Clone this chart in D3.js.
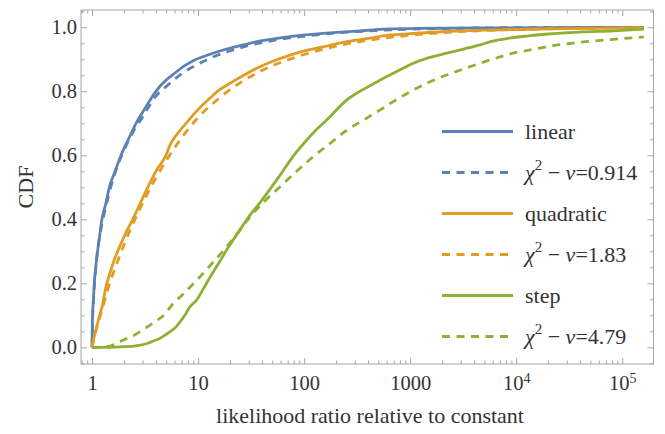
<!DOCTYPE html>
<html>
<head>
<meta charset="utf-8">
<script src="https://cdn.jsdelivr.net/npm/d3@7/dist/d3.min.js"></script>
<style>
  body { margin: 0; background: #fff; }
</style>
</head>
<body>
<svg id="chart" width="665" height="434"></svg>
<script>
// values: [likelihood ratio, CDF]
var linearData = [[1,0],[1.01,0.09],[1.03,0.15],[1.05,0.2],[1.1,0.27],[1.17,0.34],[1.24,0.4],[1.35,0.45],[1.456,0.5],[1.65,0.55],[1.876,0.6],[2.2,0.65],[2.6,0.7],[3.2,0.75],[4.0,0.8],[5.0,0.835],[6.1,0.858],[7.3,0.878],[8.9,0.895],[12,0.912],[17.3,0.929],[25,0.943],[35.8,0.955],[50,0.963],[74,0.971],[110,0.977],[151,0.981],[220,0.985],[314,0.988],[450,0.992],[650,0.995],[1000,0.996],[2000,0.997],[5000,0.998],[20000,0.999],[160000,1.0]];
var linearChi2 = [[1,0],[1.01,0.08],[1.03,0.14],[1.05,0.19],[1.1,0.27],[1.2,0.36],[1.35,0.44],[1.5,0.5],[1.75,0.57],[2,0.615],[2.5,0.68],[3,0.72],[4,0.785],[5,0.815],[7,0.855],[10,0.885],[15,0.912],[20,0.926],[30,0.943],[50,0.958],[70,0.966],[100,0.972],[200,0.982],[500,0.99],[1000,0.994],[3000,0.997],[10000,0.999],[160000,1.0]];
var quadraticData = [[1,0],[1.05,0.035],[1.1,0.06],[1.17,0.096],[1.25,0.13],[1.355,0.19],[1.5,0.24],[1.62,0.273],[1.85,0.32],[2.1,0.36],[2.42,0.4],[2.85,0.45],[3.35,0.5],[4.0,0.55],[4.98,0.6],[5.4,0.63],[6.3,0.665],[7.7,0.7],[9.5,0.735],[12.9,0.778],[16,0.805],[20,0.825],[27,0.85],[35.8,0.872],[50,0.893],[73.8,0.913],[105,0.928],[151,0.939],[220,0.951],[314,0.96],[450,0.968],[648,0.976],[1000,0.98],[2000,0.986],[5000,0.991],[20000,0.995],[160000,0.998]];
var quadraticChi2 = [[1,0],[1.05,0.03],[1.1,0.058],[1.2,0.1],[1.35,0.16],[1.5,0.21],[1.75,0.27],[2,0.32],[2.5,0.395],[3,0.45],[4,0.53],[5,0.583],[7,0.655],[10,0.718],[15,0.772],[20,0.805],[30,0.843],[50,0.88],[70,0.898],[100,0.915],[200,0.941],[500,0.964],[1000,0.975],[2000,0.983],[5000,0.99],[10000,0.993],[30000,0.996],[160000,0.998]];
var stepData = [[1,0],[1.5,0],[2,0.002],[2.5,0.004],[2.84,0.007],[3.3,0.012],[3.8,0.02],[4.3,0.027],[4.88,0.038],[5.5,0.05],[6.2,0.064],[6.76,0.08],[7.5,0.1],[8.3,0.125],[9.7,0.148],[11.3,0.185],[13,0.22],[16,0.268],[19.4,0.314],[24,0.36],[30.9,0.413],[40,0.46],[59.3,0.538],[80,0.6],[105.9,0.648],[130,0.68],[163,0.71],[253,0.773],[380,0.81],[522,0.835],[804,0.867],[1070,0.8875],[1500,0.905],[2215,0.919],[3200,0.932],[4560,0.945],[6000,0.957],[8600,0.966],[13000,0.973],[20000,0.979],[40000,0.985],[83000,0.989],[160000,0.994]];
var stepChi2 = [[1,0],[1.2,0.001],[1.355,0.002],[1.6,0.008],[1.95,0.022],[2.5,0.038],[3.16,0.059],[4,0.082],[4.64,0.097],[5.85,0.1375],[7.17,0.165],[8.5,0.19],[10.4,0.22],[13.5,0.262],[18.6,0.314],[24,0.36],[30.9,0.408],[42,0.455],[59.3,0.502],[85,0.55],[122,0.596],[180,0.64],[253,0.679],[370,0.712],[522,0.742],[750,0.775],[1070,0.804],[1500,0.828],[2215,0.851],[3200,0.87],[4560,0.8875],[6500,0.904],[9300,0.919],[14000,0.93],[20000,0.94],[40000,0.953],[83000,0.9625],[160000,0.97]];

var seriesNames = ['linear', 'chi2 0.914', 'quadratic', 'chi2 1.83', 'step', 'chi2 4.79'];
var seriesNu = [null, '0.914', null, '1.83', null, '4.79'];
var seriesColors = ['#5e81b5', '#5e81b5', '#e19c24', '#e19c24', '#8fb032', '#8fb032'];
var seriesDashed = [false, true, false, true, false, true];
var seriesValues = [linearData, linearChi2, quadraticData, quadraticChi2, stepData, stepChi2];

var xMajorTicks = [1, 10, 100, 1000, 1e4, 1e5];
var xTickLabels = ['1', '10', '100', '1000', '10|4', '10|5'];
var yMajorTicks = [0, 0.2, 0.4, 0.6, 0.8, 1.0];
var yTickLabels = ['0.0', '0.2', '0.4', '0.6', '0.8', '1.0'];

var plotLeft = 81, plotRight = 653.5, plotTop = 10, plotBottom = 364;
var frameColor = '#a6a6a6';
var textColor = '#333';
var serif = "'Liberation Serif', 'Times New Roman', Times, 'DejaVu Serif', serif";

var svg = d3.select('#chart')
    .attr('font-family', serif)
    .style('font-family', serif);

var x = d3.scaleLog().domain([0.787, 1.97e5]).range([plotLeft, plotRight]);
var y = d3.scaleLinear().domain([-0.052, 1.054]).range([plotBottom, plotTop]);

// minor ticks: 2..9 in every decade, plus 0.8 and 0.9 before 1
var xMinorTicks = [0.8, 0.9];
[1, 10, 100, 1000, 1e4, 1e5].forEach(function(dec){
    for (var k = 2; k <= 9; k++) {
        if (dec * k <= 1.97e5) xMinorTicks.push(dec * k);
    }
});
var yMinorTicks = d3.range(-0.05, 1.051, 0.05).filter(function(v){
    return Math.abs(Math.round(v * 5) - v * 5) > 0.01;
});

/* ------- CURVES -------*/
svg.append('clipPath').attr('id', 'plotclip')
    .append('rect')
        .attr('x', plotLeft).attr('y', plotTop)
        .attr('width', plotRight - plotLeft).attr('height', plotBottom - plotTop);

var line = d3.line()
    .x(function(d){ return x(d[0]); })
    .y(function(d){ return y(d[1]); })
    .curve(d3.curveMonotoneX);

svg.append('g').attr('clip-path', 'url(#plotclip)')
    .selectAll('path')
    .data(seriesValues)
    .enter().append('path')
        .attr('d', line)
        .style('fill', 'none')
        .style('stroke', function(d, i){ return seriesColors[i]; })
        .style('stroke-width', 2.8)
        .style('stroke-dasharray', function(d, i){ return seriesDashed[i] ? '8,6.5' : null; });

/* ------- FRAME AND TICKS -------*/
function styleAxis(g){
    g.attr('font-family', serif).attr('font-size', 20);
    g.select('.domain').remove();
    g.selectAll('line').style('stroke', frameColor).style('stroke-width', 1);
    g.selectAll('text')
        .style('font-family', serif)
        .style('font-size', '20.5px')
        .style('fill', textColor);
}

svg.append('g').attr('transform', 'translate(0,' + plotBottom + ')')
    .call(d3.axisBottom(x).tickValues(xMajorTicks).tickSize(-6).tickPadding(11)
        .tickFormat(function(d, i){ return xTickLabels[i]; }))
    .call(styleAxis)
    .call(function(g){
        g.selectAll('text').each(function(d, i){
            var parts = xTickLabels[i].split('|');
            if (parts.length > 1) {
                var t = d3.select(this).text(parts[0]);
                t.append('tspan').attr('dy', '-0.45em').style('font-size', '14px').text(parts[1]);
            }
        });
    });
svg.append('g').attr('transform', 'translate(0,' + plotBottom + ')')
    .call(d3.axisBottom(x).tickValues(xMinorTicks).tickSize(-3.5).tickFormat(''))
    .call(styleAxis);
svg.append('g').attr('transform', 'translate(0,' + plotTop + ')')
    .call(d3.axisTop(x).tickValues(xMajorTicks).tickSize(-6).tickFormat(''))
    .call(styleAxis);
svg.append('g').attr('transform', 'translate(0,' + plotTop + ')')
    .call(d3.axisTop(x).tickValues(xMinorTicks).tickSize(-3.5).tickFormat(''))
    .call(styleAxis);

svg.append('g').attr('transform', 'translate(' + plotLeft + ',0)')
    .call(d3.axisLeft(y).tickValues(yMajorTicks).tickSize(-6).tickPadding(4)
        .tickFormat(function(d, i){ return yTickLabels[i]; }))
    .call(styleAxis);
svg.append('g').attr('transform', 'translate(' + plotLeft + ',0)')
    .call(d3.axisLeft(y).tickValues(yMinorTicks).tickSize(-3.5).tickFormat(''))
    .call(styleAxis);
svg.append('g').attr('transform', 'translate(' + plotRight + ',0)')
    .call(d3.axisRight(y).tickValues(yMajorTicks).tickSize(-6).tickFormat(''))
    .call(styleAxis);
svg.append('g').attr('transform', 'translate(' + plotRight + ',0)')
    .call(d3.axisRight(y).tickValues(yMinorTicks).tickSize(-3.5).tickFormat(''))
    .call(styleAxis);

svg.append('rect')
    .attr('x', plotLeft).attr('y', plotTop)
    .attr('width', plotRight - plotLeft).attr('height', plotBottom - plotTop)
    .style('fill', 'none').style('stroke', frameColor).style('stroke-width', 1);

/* ------- AXIS TITLES -------*/
svg.append('text')
    .attr('x', 370).attr('y', 423)
    .attr('text-anchor', 'middle')
    .style('font-family', serif)
    .style('font-size', '22px')
    .style('fill', textColor)
    .text('likelihood ratio relative to constant');

svg.append('text')
    .attr('transform', 'translate(33,' + (plotTop + plotBottom) / 2 + ') rotate(-90)')
    .attr('text-anchor', 'middle')
    .style('font-family', serif)
    .style('font-size', '22px')
    .style('fill', textColor)
    .text('CDF');

/* ------- LEGEND -------*/
var legend = svg.append('g').attr('class', 'legend');
var rowY = d3.scaleLinear().domain([0, 5]).range([131.5, 336.5]);

seriesNames.forEach(function(name, i){
    var cy = rowY(i);
    legend.append('line')
        .attr('x1', 442).attr('x2', 513).attr('y1', cy).attr('y2', cy)
        .style('stroke', seriesColors[i])
        .style('stroke-width', 2.8)
        .style('stroke-dasharray', seriesDashed[i] ? '8,6.5' : null);

    var label = legend.append('text')
        .attr('x', 525).attr('y', cy + 7)
        .style('font-family', serif)
        .style('font-size', '22px')
        .style('fill', textColor);
    if (seriesNu[i] === null) {
        label.text(name);
    } else {
        label.append('tspan').style('font-style', 'italic').text('\u03c7');
        label.append('tspan').attr('dy', -10).style('font-size', '15px').text('2');
        label.append('tspan').attr('dy', 10).text(' \u2212 ');
        label.append('tspan').style('font-style', 'italic').text('\u03bd');
        label.append('tspan').text('=' + seriesNu[i]);
    }
});
</script>
</body>
</html>
